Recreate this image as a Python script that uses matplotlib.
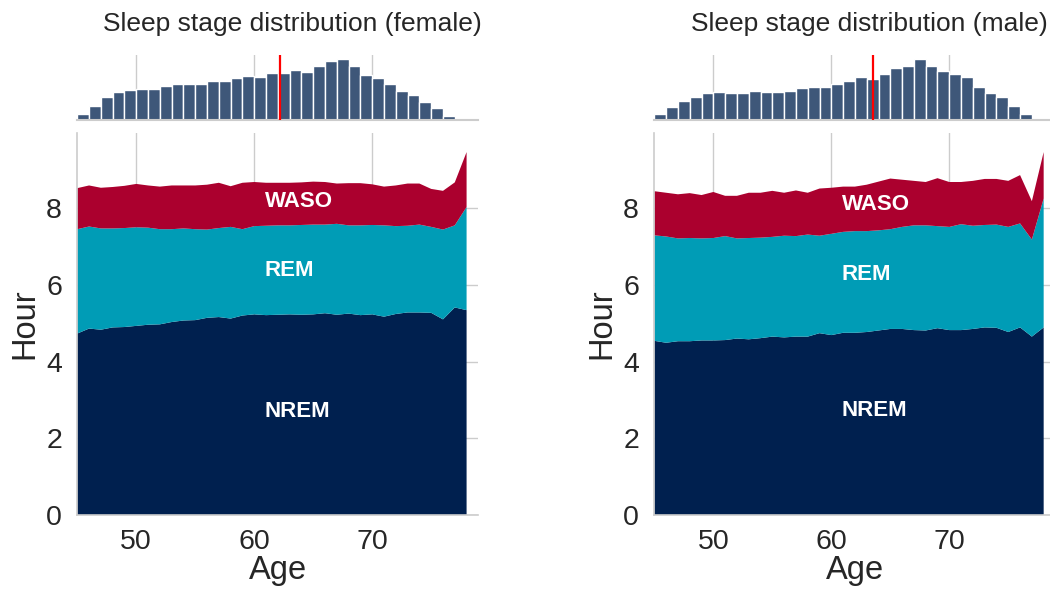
import matplotlib
matplotlib.use("Agg")
import matplotlib.pyplot as plt
import numpy as np

# Ages for the stacked hours (one point per year).
ages = list(range(45, 79))

# Cumulative tops of each stage, in hours (NREM, NREM+REM, NREM+REM+WASO).
femaleNremTop = [4.73, 4.86, 4.83, 4.89, 4.90, 4.93, 4.96, 4.97, 5.03, 5.07,
                 5.08, 5.14, 5.16, 5.12, 5.20, 5.23, 5.21, 5.22, 5.23, 5.22,
                 5.23, 5.26, 5.22, 5.25, 5.21, 5.23, 5.17, 5.24, 5.28, 5.28,
                 5.27, 5.10, 5.41, 5.34]
femaleRemTop = [7.45, 7.52, 7.47, 7.47, 7.48, 7.50, 7.49, 7.45, 7.45, 7.47,
                7.45, 7.44, 7.48, 7.51, 7.45, 7.53, 7.54, 7.55, 7.55, 7.56,
                7.57, 7.57, 7.59, 7.55, 7.55, 7.56, 7.55, 7.53, 7.54, 7.57,
                7.51, 7.44, 7.55, 8.03]
femaleWasoTop = [8.52, 8.59, 8.53, 8.55, 8.58, 8.63, 8.59, 8.56, 8.59, 8.59,
                 8.59, 8.61, 8.66, 8.57, 8.66, 8.68, 8.66, 8.66, 8.66, 8.67,
                 8.69, 8.68, 8.64, 8.65, 8.65, 8.62, 8.56, 8.59, 8.64, 8.64,
                 8.50, 8.45, 8.67, 9.46]

maleNremTop = [4.54, 4.49, 4.53, 4.53, 4.55, 4.55, 4.56, 4.60, 4.58, 4.61,
               4.65, 4.63, 4.65, 4.65, 4.74, 4.69, 4.75, 4.75, 4.77, 4.81,
               4.85, 4.85, 4.82, 4.81, 4.87, 4.82, 4.82, 4.85, 4.89, 4.88,
               4.77, 4.89, 4.65, 4.89]
maleRemTop = [7.29, 7.26, 7.21, 7.22, 7.21, 7.22, 7.27, 7.21, 7.22, 7.23,
              7.25, 7.28, 7.27, 7.31, 7.28, 7.33, 7.38, 7.40, 7.40, 7.42,
              7.45, 7.51, 7.55, 7.55, 7.53, 7.51, 7.58, 7.54, 7.56, 7.57,
              7.51, 7.60, 7.18, 8.25]
maleWasoTop = [8.44, 8.40, 8.36, 8.39, 8.34, 8.42, 8.32, 8.32, 8.40, 8.40,
               8.45, 8.40, 8.46, 8.40, 8.51, 8.53, 8.56, 8.56, 8.61, 8.69,
               8.77, 8.74, 8.71, 8.68, 8.78, 8.68, 8.68, 8.71, 8.76, 8.76,
               8.71, 8.86, 8.18, 9.46]

# Age histogram (bins of one year starting at 45).
histAges = list(range(45, 77))
femaleCounts = [18, 41, 68, 85, 90, 94, 94, 102, 108, 108, 109, 117, 117, 125,
                131, 130, 140, 140, 150, 144, 162, 177, 183, 162, 134, 125,
                107, 87, 74, 54, 35, 11]
maleCounts = [18, 39, 57, 70, 80, 84, 82, 82, 87, 84, 84, 88, 97, 98, 98, 108,
              117, 129, 123, 137, 155, 163, 183, 161, 147, 138, 128, 100, 82,
              68, 41, 17]
femaleMeanAge = 62.2
maleMeanAge = 63.5

stageNames = ["NREM", "REM", "WASO"]
stageColors = ["#00204f", "#009cb6", "#ab002e"]
histColor = "#3e5779"
gridColor = "#cccccc"
textColor = "#262626"

plt.rcParams["font.family"] = ["Liberation Sans", "DejaVu Sans"]

fig = plt.figure(figsize=(10.5, 5.9), dpi=100)

panels = [
    ("female", 0.0736, femaleNremTop, femaleRemTop, femaleWasoTop,
     femaleCounts, femaleMeanAge, [8.18, 6.38, 2.71]),
    ("male", 0.6232, maleNremTop, maleRemTop, maleWasoTop,
     maleCounts, maleMeanAge, [8.10, 6.28, 2.73]),
]

for sex, left, nremTop, remTop, wasoTop, counts, meanAge, labelY in panels:
    # Stacked hours per stage
    ax = fig.add_axes([left, 0.1271, 0.382, 0.647])
    nrem = np.array(nremTop)
    rem = np.array(remTop) - nrem
    waso = np.array(wasoTop) - np.array(remTop)
    ax.stackplot(ages, nrem, rem, waso, colors=stageColors, linewidth=0, zorder=2)
    ax.set_xlim(45, 79)
    ax.set_ylim(0, 9.95)
    ax.set_xticks([50, 60, 70])
    ax.set_yticks([0, 2, 4, 6, 8])
    ax.grid(True, color=gridColor, linewidth=1, zorder=0)
    ax.set_axisbelow(True)
    for side in ["top", "right"]:
        ax.spines[side].set_visible(False)
    for side in ["left", "bottom"]:
        ax.spines[side].set_color(gridColor)
        ax.spines[side].set_linewidth(1.2)
    ax.tick_params(length=0, labelsize=20.5, colors=textColor)
    ax.tick_params(axis="y", pad=11)
    ax.tick_params(axis="x", pad=10)
    ax.set_xlabel("Age", fontsize=23.5, color=textColor, labelpad=0)
    ax.set_ylabel("Hour", fontsize=23.5, color=textColor, labelpad=4)
    for name, y in zip(["WASO", "REM", "NREM"], labelY):
        ax.text(60.9, y, name, color="white", fontsize=16, fontweight="bold",
                ha="left", va="center", zorder=3)

    # Age distribution above
    hx = fig.add_axes([left, 0.7966, 0.382, 0.110])
    hx.bar(histAges, counts, width=1, align="edge", color=histColor,
           edgecolor="white", linewidth=1, zorder=2)
    hx.axvline(meanAge, color="red", linewidth=1.6, zorder=3)
    hx.set_xlim(45, 79)
    hx.set_ylim(0, 195)
    hx.set_xticks([50, 60, 70])
    hx.set_yticks([])
    hx.tick_params(length=0, labelbottom=False)
    hx.grid(True, axis="x", color=gridColor, linewidth=1, zorder=0)
    hx.set_axisbelow(True)
    for side in ["top", "right", "left"]:
        hx.spines[side].set_visible(False)
    hx.spines["bottom"].set_color(gridColor)
    hx.spines["bottom"].set_linewidth(1.5)
    hx.set_title("Sleep stage distribution (%s)" % sex, fontsize=19,
                 color=textColor, pad=17, x=0.536)

fig.savefig("out.png", dpi=100)
